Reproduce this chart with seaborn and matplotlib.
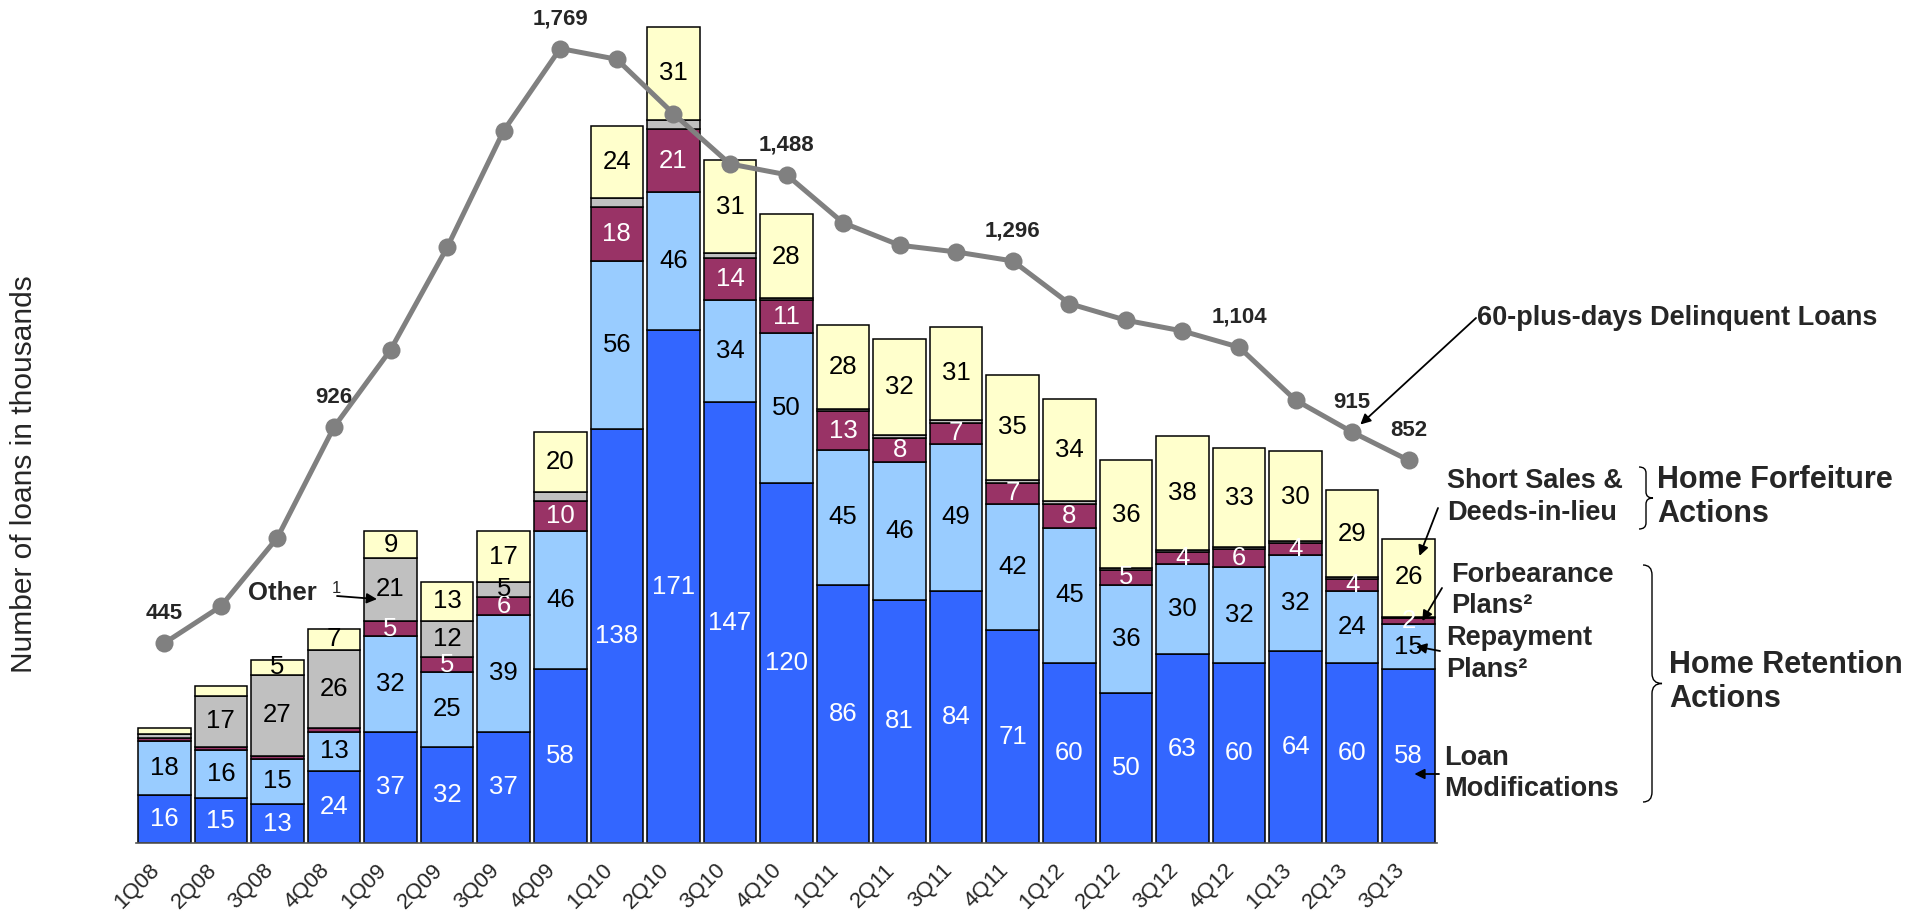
import numpy as np
import pandas as pd
import matplotlib
matplotlib.use("Agg")
import matplotlib.pyplot as plt
from matplotlib.path import Path
from matplotlib.patches import PathPatch
import seaborn as sns

# ---- data (thousands of loans) ----
quarters = ["1Q08", "2Q08", "3Q08", "4Q08", "1Q09", "2Q09", "3Q09", "4Q09",
            "1Q10", "2Q10", "3Q10", "4Q10", "1Q11", "2Q11", "3Q11", "4Q11",
            "1Q12", "2Q12", "3Q12", "4Q12", "1Q13", "2Q13", "3Q13"]
loan_mods = [16, 15, 13, 24, 37, 32, 37, 58, 138, 171, 147, 120,
             86, 81, 84, 71, 60, 50, 63, 60, 64, 60, 58]
repayment = [18, 16, 15, 13, 32, 25, 39, 46, 56, 46, 34, 50,
             45, 46, 49, 42, 45, 36, 30, 32, 32, 24, 15]
forbearance = [1, 1, 1, 1.5, 5, 5, 6, 10, 18, 21, 14, 11,
               13, 8, 7, 7, 8, 5, 4, 6, 4, 4, 2]
other = [1.5, 17, 27, 26, 21, 12, 5, 3, 3, 3, 1.5, 0.5,
         0.5, 1, 1, 1, 1, 0.5, 0.5, 0.5, 0.5, 0.5, 0.5]
short_sales = [2, 3.5, 5, 7, 9, 13, 17, 20, 24, 31, 31, 28,
               28, 32, 31, 35, 34, 36, 38, 33, 30, 29, 26]
delinquent = [445, 527, 680, 926, 1098, 1326, 1586, 1769, 1745, 1624, 1512, 1488,
              1381, 1331, 1316, 1296, 1201, 1164, 1140, 1104, 986, 915, 852]
labelled_quarters = ["1Q08", "4Q08", "4Q09", "4Q10", "4Q11", "4Q12", "2Q13", "3Q13"]

df = pd.DataFrame({"quarter": quarters, "loan_mods": loan_mods, "repayment": repayment,
                   "forbearance": forbearance, "other": other,
                   "short_sales": short_sales, "delinquent": delinquent})

# stacking order: (column, fill, label colour, smallest value that gets a label)
layers = [
    ("loan_mods", "#3366FF", "white", 0),
    ("repayment", "#99CCFF", "black", 0),
    ("forbearance", "#993366", "white", 2),
    ("other", "#C0C0C0", "black", 5),
    ("short_sales", "#FFFFCC", "black", 5),
]

sns.set_style("white")
plt.rcParams["font.family"] = ["Liberation Sans", "DejaVu Sans"]

W, H = 1927, 913
fig = plt.figure(figsize=(W / 100, H / 100), dpi=100)


def fx(px):
    return px / W


def fy(py):
    return 1 - py / H


ax = fig.add_axes([fx(136), fy(843), fx(1437) - fx(136), 843 / H])
n = len(quarters)

bottom = np.zeros(n)
for col, fill, tcolor, min_label in layers:
    vals = df[col].to_numpy(float)
    sns.barplot(data=df, x="quarter", y=col, bottom=bottom, color=fill,
                saturation=1, width=0.93, edgecolor="black", linewidth=1.1,
                errorbar=None, ax=ax)
    for i, (v, b) in enumerate(zip(vals, bottom)):
        if v >= min_label:
            ax.text(i, b + v / 2, f"{v:g}", ha="center", va="center",
                    color=tcolor, fontsize=18.5)
    bottom = bottom + vals

# delinquency line on its own scale
ax2 = ax.twinx()
sns.lineplot(x=np.arange(n), y=delinquent, ax=ax2, color="#808080", linewidth=3.6,
             marker="o", markersize=13, markeredgewidth=0, markerfacecolor="#808080")
ax2.set_ylim(0, 1877)
ax2.axis("off")
for q in labelled_quarters:
    i = quarters.index(q)
    ax2.annotate(f"{delinquent[i]:,}", xy=(i, delinquent[i]), xytext=(0, 21.6),
                 textcoords="offset points", ha="center", va="center",
                 fontsize=16, fontweight="bold")

# bar axis styling (after the twin so the shared x axis keeps these settings)
ax.set_xlim(-0.5, n - 0.5)
ax.set_ylim(0, 281)
ax.set_xlabel("")
ax.set_ylabel("")
ax.set_yticks([])
for side in ("left", "right", "top"):
    ax.spines[side].set_visible(False)
ax.spines["bottom"].set_color("#555555")
ax.spines["bottom"].set_linewidth(1.2)
ax.set_xticks(range(n))
ax.set_xticklabels(quarters, fontsize=16, rotation=45, ha="right")
ax.set_xticks(np.arange(-0.5, n, 1), minor=True)
ax.tick_params(axis="x", which="major", length=0, pad=12)
ax.tick_params(axis="x", which="minor", length=7, color="#aaaaaa", width=1)

arrow = dict(arrowstyle="-|>", color="black", lw=1.3, mutation_scale=15,
             shrinkA=0, shrinkB=0)

# callouts
ax2.annotate("", xy=(21, delinquent[21]), xytext=(fx(1476), fy(318)),
             textcoords="figure fraction",
             arrowprops={**arrow, "shrinkB": 8})
fig.text(fx(1477), fy(325), "60-plus-days Delinquent Loans", fontsize=19.5,
         fontweight="bold", va="baseline", ha="left")

ax.annotate("", xy=(22.19, 95.7), xytext=(fx(1438), fy(508)),
            textcoords="figure fraction", arrowprops=arrow)
ax.annotate("", xy=(22.24, 74), xytext=(fx(1442), fy(588)),
            textcoords="figure fraction", arrowprops=arrow)
ax.annotate("", xy=(22.13, loan_mods[-1] + repayment[-1] / 2), xytext=(fx(1440), fy(651)),
            textcoords="figure fraction", arrowprops=arrow)
ax.annotate("", xy=(22.1, 23), xytext=(fx(1439), fy(774)),
            textcoords="figure fraction", arrowprops=arrow)
ax.annotate("", xy=(3.76, 81.3), xytext=(fx(337), fy(596)),
            textcoords="figure fraction", arrowprops=arrow)


def lines_at(x, rows, size):
    for txt, base in rows:
        fig.text(fx(x), fy(base), txt, fontsize=size, fontweight="bold",
                 va="baseline", ha="left")


lines_at(1447, [("Short Sales &", 488), ("Deeds-in-lieu", 520)], 19.5)
lines_at(1451, [("Forbearance", 582), ("Plans²", 613)], 19.5)
lines_at(1446, [("Repayment", 645), ("Plans²", 677)], 19.5)
lines_at(1444, [("Loan", 765), ("Modifications", 796)], 19.5)
lines_at(1657, [("Home Forfeiture", 488), ("Actions", 522)], 22)
lines_at(1669, [("Home Retention", 673), ("Actions", 707)], 22)
lines_at(248, [("Other", 600)], 18.5)
fig.text(fx(332), fy(593), "1", fontsize=12, va="baseline", ha="left")


def curly_brace(xl, xm, xr, yt, yb, r):
    ym = (yt + yb) / 2
    pts = [(xl, yt), (xm, yt), (xm, yt + r), (xm, ym - r), (xm, ym), (xr, ym),
           (xm, ym), (xm, ym + r), (xm, yb - r), (xm, yb), (xl, yb)]
    codes = [Path.MOVETO, Path.CURVE3, Path.CURVE3, Path.LINETO, Path.CURVE3,
             Path.CURVE3, Path.CURVE3, Path.CURVE3, Path.LINETO, Path.CURVE3,
             Path.CURVE3]
    verts = [(fx(px), fy(py)) for px, py in pts]
    fig.add_artist(PathPatch(Path(verts, codes), facecolor="none",
                             edgecolor="black", lw=1.0,
                             transform=fig.transFigure))


curly_brace(1639, 1646, 1653, 467, 529, 6)
curly_brace(1643, 1652, 1662, 565, 802, 10)

fig.text(fx(24.5), fy(474), "Number of loans in thousands", rotation=90,
         fontsize=21.5, va="center", ha="center")

fig.savefig("out.png", dpi=100, facecolor="white")
